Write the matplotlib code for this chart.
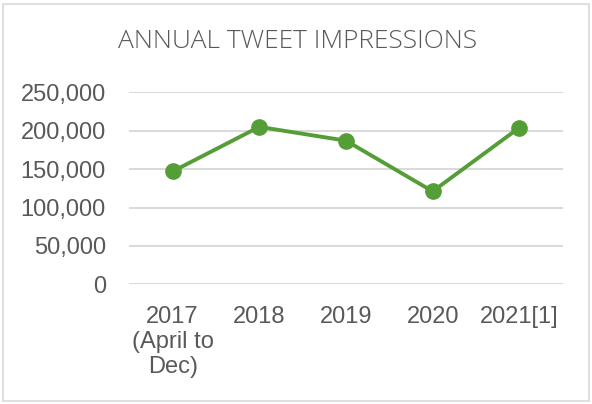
import matplotlib.pyplot as plt
from matplotlib.patches import Rectangle
from matplotlib.ticker import FuncFormatter

# values
years = ["2017\n(April to\nDec)", "2018", "2019", "2020", "2021[1]"]
impressions = [147000, 205000, 187000, 121000, 204000]
yticks = [0, 50000, 100000, 150000, 200000, 250000]

green = "#559E37"
grey_text = "#595959"
grid_col = "#d9d9d9"

plt.rcParams['font.family'] = ['Liberation Sans', 'DejaVu Sans']

fig = plt.figure(figsize=(5.92, 4.04), dpi=100)
ax = fig.add_axes([129.3 / 592, 1 - 284.3 / 404, 433.4 / 592, 192 / 404])

x = list(range(len(years)))
ax.plot(x, impressions, color=green, lw=2.8, marker="o", markersize=11,
        solid_capstyle="round", zorder=3)

ax.set_xlim(-0.5, len(years) - 0.5)
ax.set_ylim(0, 250000)
ax.set_yticks(yticks)
ax.yaxis.set_major_formatter(FuncFormatter(lambda v, p: f"{int(v):,}"))
ax.set_xticks(x)
ax.set_xticklabels(years, linespacing=1.17)

ax.grid(axis="y", color=grid_col, lw=1.4)
ax.set_axisbelow(True)
for s in ax.spines.values():
    s.set_visible(False)
ax.tick_params(axis="both", length=0, labelsize=17, labelcolor=grey_text)
ax.tick_params(axis="y", pad=16.8)
ax.tick_params(axis="x", pad=15.5)

fig.text(297.5 / 592, 1 - 42 / 404, "ANNUAL TWEET IMPRESSIONS", ha="center", va="center",
         fontsize=19, color=grey_text, family=["Open Sans", "DejaVu Sans"], fontweight="light")

# light border around the chart
fig.patches.append(Rectangle((3 / 592, 3 / 404), 586 / 592, 397 / 404, transform=fig.transFigure,
                             fill=False, edgecolor=grid_col, lw=1.2))

fig.savefig("out.png", dpi=100)
